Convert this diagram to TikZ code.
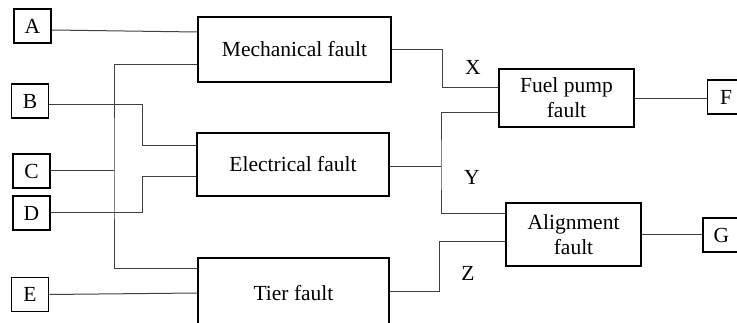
\documentclass[tikz,border=0pt]{standalone}
\usepackage{fontspec}
\setmainfont{Liberation Serif}
\begin{document}
\begin{tikzpicture}[x=1pt,y=-1pt,
  font=\fontsize{21.5}{25}\selectfont,
  box/.style={draw,line width=1.8pt,inner sep=0pt,align=center},
  letter/.style={box,minimum width=37,minimum height=34},
  wire/.style={line width=1pt,black!75}]
  \useasboundingbox (0,0) rectangle (737,323);
  % basic events
  \node[letter] (A) at (32.5,26) {A};
  \node[letter] (B) at (30,101) {B};
  \node[letter] (C) at (31.5,171) {C};
  \node[letter] (D) at (31.5,213) {D};
  \node[letter] (E) at (30,294.5) {E};
  % intermediate faults
  \node[box,minimum width=193,minimum height=65] (mech) at (294.5,49.5) {Mechanical fault};
  \node[box,minimum width=192,minimum height=63] (elec) at (293,164.5) {Electrical fault};
  \node[box,minimum width=191,minimum height=70] (tier) at (293.5,293) {Tier fault};
  \node[box,minimum width=135,minimum height=58] (fuel) at (566.5,98) {Fuel pump\\fault};
  \node[box,minimum width=135,minimum height=63] (align) at (573.5,234.5) {Alignment\\fault};
  \node[letter] (F) at (726,97) {F};
  \node[letter] (G) at (721.5,235) {G};
  \coordinate (busL) at (114,170);
  \coordinate (busR) at (441,167);
  % left wiring
  \draw[wire] ([yshift=-4]A.east) -- ([yshift=17.5]mech.west);
  \draw[wire] ([yshift=-15.5]mech.west) -| (busL) |- ([yshift=24]tier.west);
  \draw[wire] (C.east) -- (C.east -| busL);
  \draw[wire] ([yshift=-4]B.east) -- ++(93,0) |- ([yshift=18.5]elec.west);
  \draw[wire] (D.east) -- ++(92,0) |- ([yshift=-12.5]elec.west);
  \draw[wire] (E.east) -- (tier.west);
  % right wiring
  \draw[wire] (mech.east) -- ++(51,0) |- ([yshift=10]fuel.west);
  \draw[wire] ([yshift=-2.5]elec.east) -- (busR);
  \draw[wire] ([yshift=-15]fuel.west) -| (busR) |- ([yshift=20.5]align.west);
  \draw[wire] ([yshift=1]tier.east) -- ++(50,0) |- ([yshift=-7.5]align.west);
  \draw[wire] ([yshift=-1]fuel.east) -- ([yshift=-1]fuel.east -| F.west);
  \draw[wire] (align.east) -- (align.east -| G.west);
  \node (lblX) at (473,67) {X};
  \node (lblY) at (472,177) {Y};
  \node (lblZ) at (468,273) {Z};
\end{tikzpicture}
\end{document}
